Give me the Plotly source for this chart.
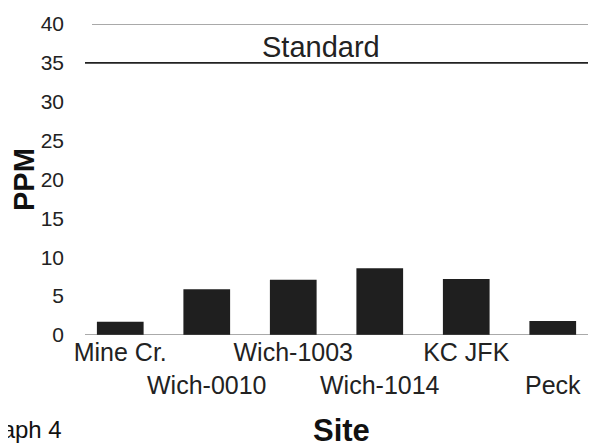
import plotly.graph_objects as go

sites = ["Mine Cr.", "Wich-0010", "Wich-1003", "Wich-1014", "KC JFK", "Peck"]
ppm = [1.7, 5.9, 7.1, 8.6, 7.2, 1.8]
standard = 35
y_ticks = [0, 5, 10, 15, 20, 25, 30, 35, 40]
y_max = 40

# staggered category labels (every second label pushed to a second line)
tick_text = [s if i % 2 == 0 else "<br>" + s for i, s in enumerate(sites)]

OFF = 8  # page body margin
W, H = 588, 439
L, R, T, B = 69, 0, 16, 112
FONT = "Liberation Sans, Arial, sans-serif"


def px(xs):
    return (xs - OFF - L) / (W - L - R)


def py(ys):
    return (H - B - (ys - OFF)) / (H - T - B)


fig = go.Figure(go.Bar(x=sites, y=ppm, marker=dict(color="#1f1f1f", line=dict(width=0)),
                       width=0.54))

# frame lines (bottom baseline, top border) and the standard line
fig.add_shape(type="line", xref="paper", yref="y", x0=px(85), x1=1, y0=0, y1=0,
              line=dict(color="#555", width=1))
fig.add_shape(type="line", xref="paper", yref="y", x0=px(92), x1=1, y0=y_max, y1=y_max,
              line=dict(color="#555", width=1))
fig.add_shape(type="line", xref="paper", yref="y", x0=px(85), x1=1, y0=standard, y1=standard,
              line=dict(color="#222", width=1.6))

fig.add_annotation(text="Standard", xref="paper", yref="paper", x=px(321), y=py(47),
                   xanchor="center", yanchor="middle", showarrow=False,
                   font=dict(family=FONT, size=29, color="#222"))
fig.add_annotation(text="<b>PPM</b>", xref="paper", yref="paper", x=px(24), y=py(180),
                   xanchor="center", yanchor="middle", textangle=-90, showarrow=False,
                   font=dict(family=FONT, size=29, color="#111"))
fig.add_annotation(text="<b>Site</b>", xref="paper", yref="paper", x=px(341), y=py(430),
                   xanchor="center", yanchor="middle", showarrow=False,
                   font=dict(family=FONT, size=31, color="#111"))
fig.add_annotation(text="Graph 4", xref="paper", yref="paper", x=px(64), y=py(429),
                   xanchor="right", yanchor="middle", showarrow=False,
                   font=dict(family=FONT, size=24, color="#111"))

fig.update_layout(
    width=W, height=H, margin=dict(l=L, r=R, t=T, b=B, autoexpand=False),
    paper_bgcolor="white", plot_bgcolor="white", showlegend=False,
    bargap=0.46,
    xaxis=dict(tickvals=sites, ticktext=tick_text, showgrid=False, showline=False,
               zeroline=False, ticks="", automargin=False,
               tickfont=dict(family=FONT, size=25, color="#222"), tickangle=0),
    yaxis=dict(range=[0, y_max], tickvals=y_ticks, showgrid=False, zeroline=False,
               showline=False, ticks="", ticklabelstandoff=12, automargin=False,
               tickfont=dict(family=FONT, size=21, color="#222")),
)

fig.write_html("out.html")
